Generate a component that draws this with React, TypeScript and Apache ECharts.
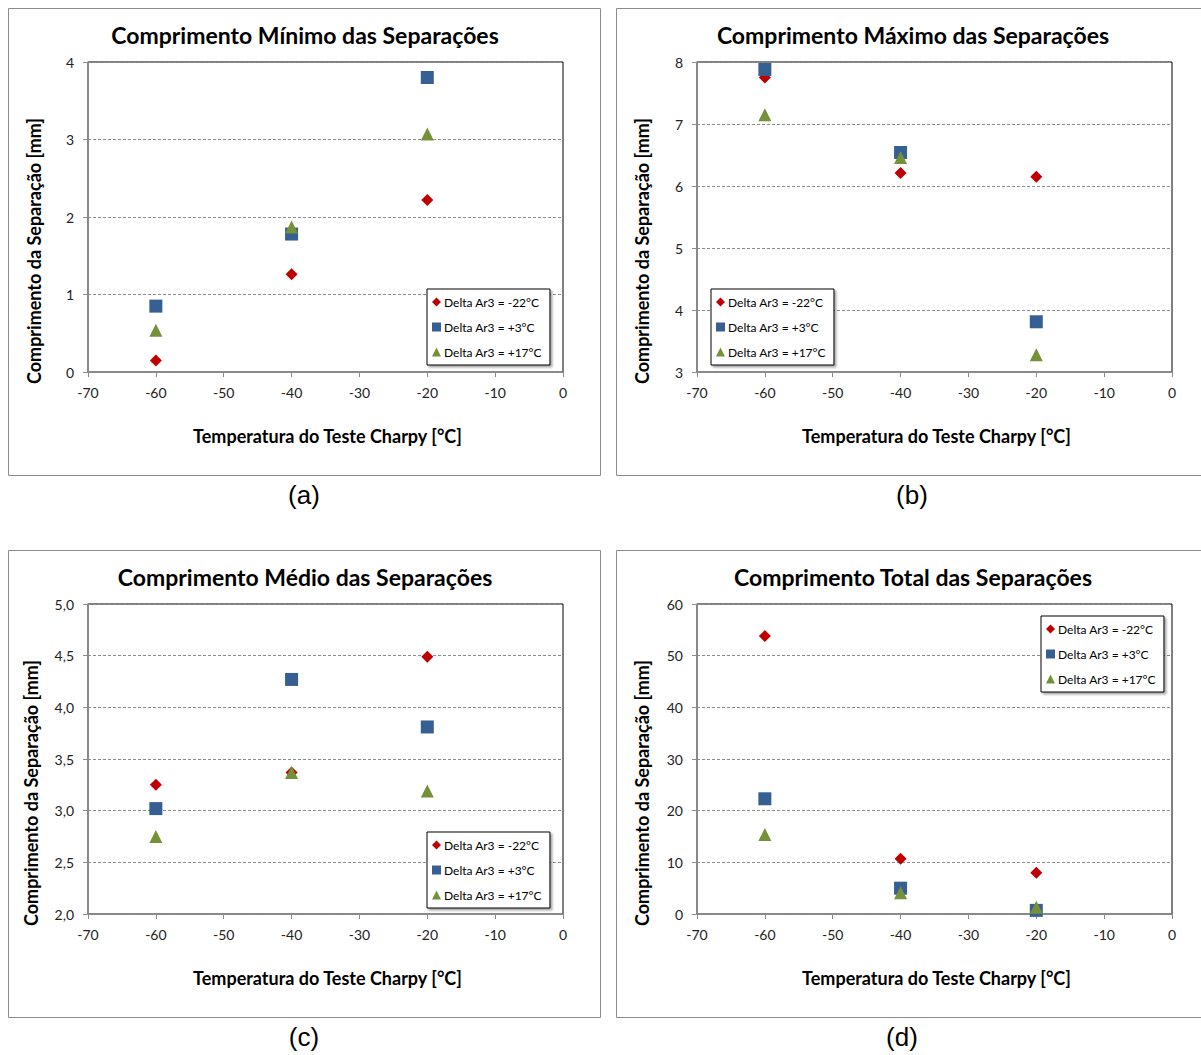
import React, { useEffect, useRef } from "react";
import * as echarts from "echarts";

const temperatures = [-60, -40, -20];
const seriesNames = ["Delta Ar3 = -22°C", "Delta Ar3 = +3°C", "Delta Ar3 = +17°C"];

// (a) Comprimento Mínimo
const minRed = [0.15, 1.26, 2.22];
const minBlue = [0.85, 1.78, 3.8];
const minGreen = [0.54, 1.87, 3.07];
// (b) Comprimento Máximo
const maxRed = [7.75, 6.21, 6.15];
const maxBlue = [7.88, 6.54, 3.81];
const maxGreen = [7.15, 6.46, 3.28];
// (c) Comprimento Médio
const medRed = [3.25, 3.37, 4.49];
const medBlue = [3.02, 4.27, 3.81];
const medGreen = [2.75, 3.37, 3.19];
// (d) Comprimento Total
const totRed = [53.8, 10.7, 8.0];
const totBlue = [22.3, 5.0, 0.7];
const totGreen = [15.4, 4.1, 1.3];

const titles = [
  "Comprimento Mínimo das Separações",
  "Comprimento Máximo das Separações",
  "Comprimento Médio das Separações",
  "Comprimento Total das Separações",
];
const panelLabels = ["(a)", "(b)", "(c)", "(d)"];
const yRanges = [
  [0, 4, 1],
  [3, 8, 1],
  [2, 5, 0.5],
  [0, 60, 10],
];
const xMin = -70;
const xMax = 0;
const xInterval = 10;
const xName = "Temperatura do Teste Charpy [°C]";
const yName = "Comprimento da Separação [mm]";

const panelData = [
  [minRed, minBlue, minGreen],
  [maxRed, maxBlue, maxGreen],
  [medRed, medBlue, medGreen],
  [totRed, totBlue, totGreen],
];

const colors = ["#C00000", "#365F93", "#74913A"];
const symbols = ["diamond", "rect", "triangle"];
const symbolSizes = [12, 13, 13];

const FONT = "Lato, 'Open Sans', sans-serif";

export default function App() {
  const ref = useRef<HTMLDivElement>(null);
  useEffect(() => {
    document.body.style.margin = "0";
    if (!ref.current) return;
    const chart = echarts.init(ref.current, null, { renderer: "svg" });

    const panels = [
      { bx: 8, by: 8, gl: 88, gt: 62, legend: { left: 427, top: 289 } },
      { bx: 616, by: 8, gl: 697, gt: 62, legend: { left: 711, top: 289 } },
      { bx: 8, by: 550, gl: 88, gt: 604, legend: { left: 427, top: 832 } },
      { bx: 616, by: 550, gl: 697, gt: 604, legend: { left: 1041, top: 616 } },
    ];
    const GW = 475;
    const GH = 310;
    const BW = 592;
    const BH = 467;

    const grids: any[] = [];
    const xAxes: any[] = [];
    const yAxes: any[] = [];
    const series: any[] = [];
    const legends: any[] = [];
    const graphics: any[] = [];

    panels.forEach((p, i) => {
      grids.push({
        left: p.gl,
        top: p.gt,
        width: GW,
        height: GH,
        show: true,
        borderColor: "#000",
        borderWidth: 1,
        backgroundColor: "#fff",
      });
      xAxes.push({
        type: "value",
        gridIndex: i,
        min: xMin,
        max: xMax,
        interval: xInterval,
        axisLine: { show: true, onZero: false, lineStyle: { color: "#8C8C8C", width: 1.5 } },
        axisTick: { show: true, inside: false, length: 5, lineStyle: { color: "#8C8C8C" } },
        axisLabel: { color: "#222", fontSize: 14, fontFamily: FONT, margin: 13 },
        splitLine: { show: false },
      });
      const [ymin, ymax, yint] = yRanges[i];
      yAxes.push({
        type: "value",
        gridIndex: i,
        min: ymin,
        max: ymax,
        interval: yint,
        axisLine: { show: true, onZero: false, lineStyle: { color: "#8C8C8C", width: 1.5 } },
        axisTick: { show: true, inside: false, length: 5, lineStyle: { color: "#8C8C8C" } },
        axisLabel: {
          color: "#222",
          fontSize: 14,
          fontFamily: FONT,
          margin: 14,
          formatter: (v: number) => (i === 2 ? v.toFixed(1).replace(".", ",") : String(v)),
        },
        splitLine: { show: true, lineStyle: { color: "#8C8C8C", type: [3, 2], width: 1 } },
      });
      panelData[i].forEach((vals, s) => {
        series.push({
          type: "scatter",
          name: seriesNames[s],
          xAxisIndex: i,
          yAxisIndex: i,
          symbol: symbols[s],
          symbolSize: symbolSizes[s],
          itemStyle: { color: colors[s], opacity: 1 },
          data: temperatures.map((t, k) => [t, vals[k]]),
          z: 3 + s,
        });
      });
      legends.push({
        left: p.legend.left,
        top: p.legend.top,
        orient: "vertical",
        itemWidth: 9,
        itemHeight: 9,
        itemGap: 13,
        padding: [7, 8, 7, 5],
        backgroundColor: "#fff",
        borderColor: "#000",
        borderWidth: 1,
        borderRadius: 0,
        shadowColor: "rgba(0,0,0,0.35)",
        shadowBlur: 2,
        shadowOffsetX: 2,
        shadowOffsetY: 2,
        textStyle: { fontSize: 12, fontFamily: FONT, color: "#000", padding: [0, 0, 0, -2] },
        selectedMode: false,
        data: seriesNames.map((n, s) => ({ name: n, icon: symbols[s] })),
      });
      // panel border
      graphics.push({
        type: "rect",
        shape: { x: p.bx + 0.5, y: p.by + 0.5, width: BW, height: BH },
        style: { fill: "none", stroke: "#8C8C8C", lineWidth: 1 },
        z: -10,
      });
      const cx = p.bx + BW / 2;
      graphics.push({
        type: "text",
        x: cx + 1,
        y: p.by + 27,
        style: {
          text: titles[i],
          fontSize: 23,
          fontWeight: "bold",
          fontFamily: FONT,
          fill: "#000",
          align: "center",
          verticalAlign: "middle",
        },
      });
      graphics.push({
        type: "text",
        x: p.gl + GW / 2 + 2,
        y: p.gt + 374,
        style: {
          text: xName,
          fontSize: 18,
          fontWeight: "bold",
          fontFamily: FONT,
          fill: "#000",
          align: "center",
          verticalAlign: "middle",
        },
      });
      graphics.push({
        type: "text",
        x: p.bx + (i === 2 ? 23 : 26),
        y: p.gt + 189,
        rotation: Math.PI / 2,
        style: {
          text: yName,
          fontSize: 18,
          fontWeight: "bold",
          fontFamily: FONT,
          fill: "#000",
          align: "center",
          verticalAlign: "middle",
        },
      });
      graphics.push({
        type: "text",
        x: cx + (i === 3 ? -10 : 0),
        y: p.by + BH + 20,
        style: {
          text: panelLabels[i],
          fontSize: 26,
          fontFamily: "'Liberation Sans', Arial, sans-serif",
          fill: "#000",
          align: "center",
          verticalAlign: "middle",
        },
      });
    });

    chart.setOption({
      animation: false,
      backgroundColor: "#fff",
      grid: grids,
      xAxis: xAxes,
      yAxis: yAxes,
      series,
      legend: legends,
      graphic: graphics,
    });
    return () => chart.dispose();
  }, []);
  return <div ref={ref} style={{ width: 1201, height: 1055 }} />;
}
